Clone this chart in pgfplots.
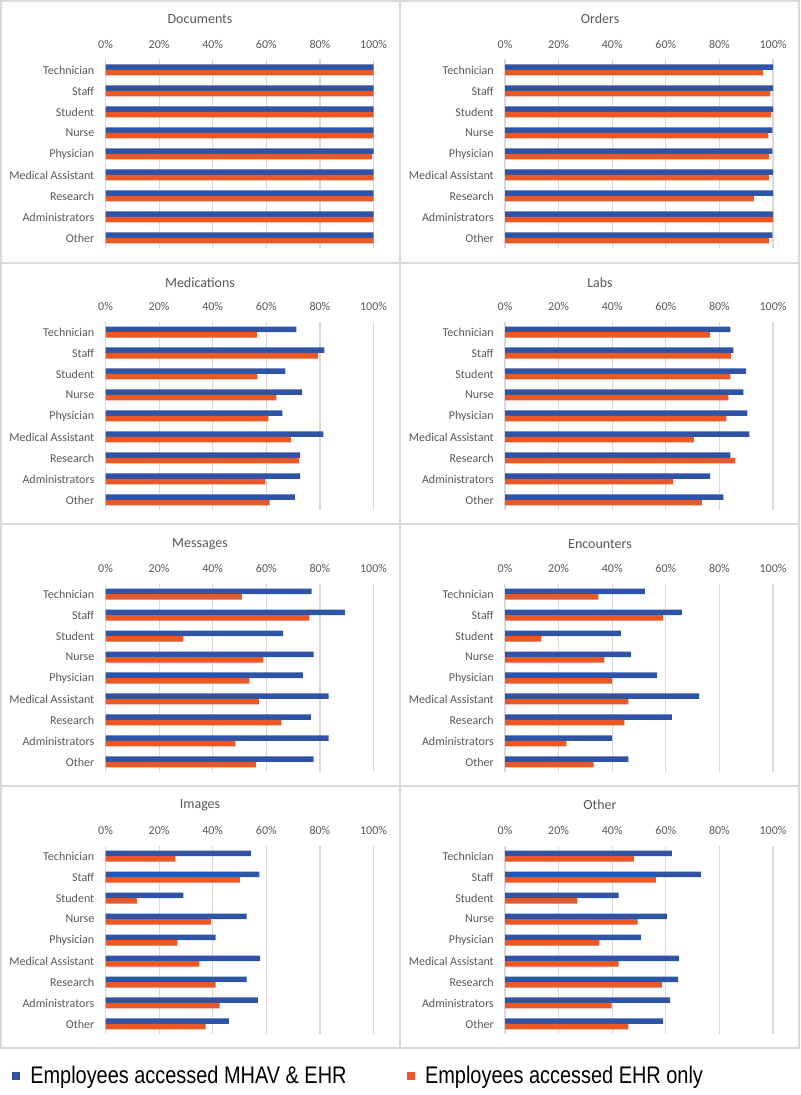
\documentclass[border=0pt]{standalone}
\usepackage{fontspec}
\setmainfont{Carlito}
\newfontfamily\legfont[FakeStretch=0.83]{Liberation Sans}
\usepackage{pgfplots}
\usepackage{pgfplotstable}
\pgfplotsset{compat=1.18}

\definecolor{cblue}{RGB}{47,84,165}
\definecolor{corange}{RGB}{233,88,38}
\definecolor{gridgray}{RGB}{217,217,217}
\definecolor{txtgray}{RGB}{89,89,89}

% y: 8 = Technician ... 0 = Other ; b = MHAV & EHR, o = EHR only
\pgfplotstableread{
y b o
8 100 100
7 100 100
6 100 100
5 100 100
4 100 99.5
3 100 100
2 100 100
1 100 100
0 100 100
}\documents
\pgfplotstableread{
y b o
8 100 96.3
7 100 99.0
6 100 99.3
5 99.8 98.3
4 99.8 98.5
3 100 98.5
2 100 92.9
1 100 100
0 99.8 98.5
}\orders
\pgfplotstableread{
y b o
8 71.2 56.5
7 81.7 79.3
6 67.1 56.7
5 73.4 63.8
4 66.0 60.8
3 81.3 69.2
2 72.6 72.2
1 72.6 59.7
0 70.7 61.2
}\medications
\pgfplotstableread{
y b o
8 84.1 76.5
7 85.2 84.3
6 90.0 84.1
5 88.9 83.3
4 90.4 82.6
3 91.2 70.5
2 84.1 85.9
1 76.5 62.7
0 81.5 73.5
}\labs
\pgfplotstableread{
y b o
8 76.9 50.9
7 89.3 76.1
6 66.3 29.1
5 77.7 58.9
4 73.6 53.7
3 83.3 57.2
2 76.6 65.6
1 83.3 48.5
0 77.7 56.2
}\messages
\pgfplotstableread{
y b o
8 52.2 34.8
7 66.0 59.0
6 43.2 13.6
5 47.0 37.1
4 56.7 40.0
3 72.4 46.0
2 62.3 44.5
1 40.0 22.9
0 46.0 33.1
}\encounters
\pgfplotstableread{
y b o
8 54.2 26.1
7 57.4 50.1
6 29.1 11.7
5 52.7 39.3
4 41.1 26.8
3 57.7 35.0
2 52.7 41.1
1 56.9 42.6
0 46.0 37.4
}\images
\pgfplotstableread{
y b o
8 62.3 48.1
7 73.1 56.3
6 42.4 27.0
5 60.4 49.5
4 50.7 35.2
3 64.9 42.4
2 64.6 58.6
1 61.6 39.8
0 59.0 46.0
}\othertab

\pgfplotsset{
  panel/.style={
    anchor=north west, scale only axis,
    width=201pt, height=141.75pt,
    xmin=0, xmax=100, ymin=-0.5, ymax=8.5,
    axis line style={draw=none}, major tick length=0pt,
    xmajorgrids, grid style={gridgray, line width=0.9pt},
    xtick={0,20,...,100},
    xticklabels={0\%,20\%,40\%,60\%,80\%,100\%},
    xticklabel pos=top,
    xticklabel style={anchor=center, yshift=11.6pt, font=\fontsize{9}{10}\selectfont, text=txtgray},
    ytick={0,...,8},
    yticklabels={Other,Administrators,Research,Medical Assistant,Physician,Nurse,Student,Staff,Technician},
    yticklabel style={anchor=east, inner sep=0pt, xshift=-8.25pt, font=\fontsize{9}{10}\selectfont, text=txtgray},
  },
  bblue/.style={xbar, fill=cblue, draw=none, bar width=4.125pt, bar shift=2.0625pt, forget plot},
  borange/.style={xbar, fill=corange, draw=none, bar width=4.125pt, bar shift=-2.0625pt, forget plot},
}

% #2,#3: top-left corner of the plot area in px from the picture's top-left
\newcommand\panel[4][]{%
  \begin{axis}[panel, at={({#2*0.75pt},{-#3*0.75pt})}, #1]
    \addplot[bblue] table[x=b, y=y] {#4};
    \addplot[borange] table[x=o, y=y] {#4};
  \end{axis}}

\begin{document}
\begin{tikzpicture}
\begin{scope}[x=0.75pt, y=-0.75pt]
\useasboundingbox (0,0) rectangle (800,1095);
\fill[white] (0,0) rectangle (800,1095);

% panel frames
\draw[gridgray, line width=1.1pt] (1,1) rectangle (799,1048);
\draw[gridgray, line width=1.1pt] (400,1) -- (400,1048);
\draw[gridgray, line width=1.1pt] (1,263) -- (799,263);
\draw[gridgray, line width=1.1pt] (1,524) -- (799,524);
\draw[gridgray, line width=1.1pt] (1,786) -- (799,786);

% titles
\begin{scope}[every node/.style={font=\fontsize{10.5}{12}\selectfont, text=txtgray}]
\node at (200,19) {Documents};
\node at (600,19) {Orders};
\node at (200,283) {Medications};
\node at (600,283) {Labs};
\node at (200,544) {Messages};
\node at (600,544) {Encounters};
\node at (200,805) {Images};
\node at (600,805) {Other};
\end{scope}
\end{scope}

\panel{105.5}{59.5}{\documents}
\panel{505}{59.5}{\orders}
\panel{105.5}{321.5}{\medications}
\panel{505}{321.5}{\labs}
\panel{105.5}{583.5}{\messages}
\panel{505}{583.5}{\encounters}

\begin{axis}[panel, at={({105.5*0.75pt},{-845.5*0.75pt})},
  legend columns=2,
  legend cell align=left,
  legend style={draw=none, fill=none, inner sep=0pt,
    at={(axis description cs:-0.3507,-0.2196)}, anchor=west,
    font=\legfont\fontsize{18}{20}\selectfont, text=black,
    nodes={inner sep=0pt},
    /tikz/every odd column/.append style={column sep=8.25pt},
    /tikz/every even column/.append style={column sep=45pt}}]
  \addlegendimage{legend image code/.code={\fill[cblue] (0pt,-2.6pt) rectangle (5.25pt,2.6pt);}}
  \addlegendentry{Employees accessed MHAV \& EHR}
  \addlegendimage{legend image code/.code={\fill[corange] (0pt,-2.6pt) rectangle (5.25pt,2.6pt);}}
  \addlegendentry{Employees accessed EHR only}
  \addplot[bblue] table[x=b, y=y] {\images};
  \addplot[borange] table[x=o, y=y] {\images};
\end{axis}

\panel{505}{845.5}{\othertab}
\end{tikzpicture}
\end{document}
